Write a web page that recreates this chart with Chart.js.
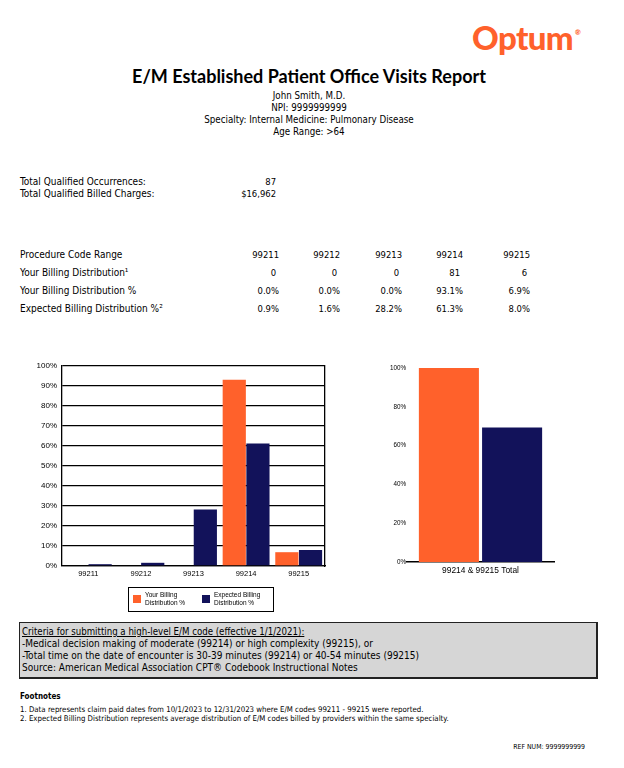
<!DOCTYPE html>
<html>
<head>
<meta charset="utf-8">
<script src="https://cdn.jsdelivr.net/npm/chart.js@4.4.0/dist/chart.umd.min.js"></script>
<style>
  body {
    margin: 0;
    width: 624px;
    height: 768px;
    background: #fff;
    color: #000;
    font-family: "DejaVu Sans Condensed", "DejaVu Sans", sans-serif;
    position: relative;
    overflow: hidden;
  }
  .abs { position: absolute; }
  .logo {
    left: 472px; top: 12px; width: 130px;
    font-family: Lato, sans-serif; font-weight: 900; font-size: 33px;
    color: #ff612b; line-height: 40px; letter-spacing: -0.6px;
  }
  .logo sup { font-size: 7px; letter-spacing: 0; vertical-align: 15px; margin-left: 2px; }
  .title {
    left: 0; top: 66px; width: 618px; text-align: center;
    font-family: Lato, sans-serif; font-weight: 700; font-size: 18px; line-height: 20px;
  }
  .sub {
    left: 0; top: 90px; width: 618px; text-align: center;
    font-size: 9.7px; line-height: 12px;
  }
  table { border-collapse: collapse; table-layout: fixed; }
  td { padding: 0; white-space: nowrap; font-size: 9.4px; }
  td.lab { font-size: 10px; }
  .totals { left: 20px; top: 176px; }
  .totals td { line-height: 12px; }
  .dist { left: 20px; top: 246px; }
  .dist td { line-height: 18px; }
  .r { text-align: right; }
  .pr td.r { padding-right: 3px; }
  .legend {
    left: 128px; top: 587px; width: 144px; height: 23px;
    border: 1px solid #000; font-family: "Liberation Sans", Arial, sans-serif;
    font-size: 6.5px; line-height: 8px;
  }
  .legend .sw { position: absolute; top: 7px; width: 8px; height: 8px; }
  .legend .tx { position: absolute; top: 3px; width: 54px; }
  .criteria {
    left: 19px; top: 622px; width: 574px; height: 51px;
    background: #d6d6d6; border: 1px solid #222; border-right-width: 2px; border-bottom-width: 2px;
    padding: 3px 0 0 2px; font-size: 10px; line-height: 12px;
  }
  .criteria .head { text-decoration: underline; font-size: 9.6px; }
  .foothead { left: 20px; top: 692px; font-size: 8px; font-weight: bold; line-height: 10px; }
  .foot { left: 20px; top: 705px; font-size: 7.8px; line-height: 9px; }
  .ref { left: 400px; top: 742px; width: 185px; text-align: right; font-size: 6.9px; line-height: 10px; }
</style>
</head>
<body>

<div class="abs logo">Optum<sup>®</sup></div>
<div class="abs title">E/M Established Patient Office Visits Report</div>
<div class="abs sub" id="sub"></div>

<table class="abs totals" id="totals"></table>
<table class="abs dist" id="dist"></table>

<canvas id="leftChart" class="abs" width="310" height="236" style="left:20px;top:356px;"></canvas>
<canvas id="rightChart" class="abs" width="260" height="230" style="left:340px;top:355px;"></canvas>

<div class="abs legend" id="legend"></div>

<div class="abs criteria" id="criteria"></div>

<div class="abs foothead">Footnotes</div>
<div class="abs foot" id="foot"></div>
<div class="abs ref">REF NUM: 9999999999</div>

<script>
  // report header
  const providerLines = [
    "John Smith, M.D.",
    "NPI: 9999999999",
    "Specialty: Internal Medicine: Pulmonary Disease",
    "Age Range: >64",
  ];
  const totalLabels = ["Total Qualified Occurrences:", "Total Qualified Billed Charges:"];
  const totalValues = ["87", "$16,962"];

  // distribution table + left chart
  const codes = ["99211", "99212", "99213", "99214", "99215"];
  const rowLabels = [
    "Procedure Code Range",
    "Your Billing Distribution\u00b9",
    "Your Billing Distribution %",
    "Expected Billing Distribution %\u00b2",
  ];
  const yourCounts = [0, 0, 0, 81, 6];
  const yourPct = [0.0, 0.0, 0.0, 93.1, 6.9];
  const expectedPct = [0.9, 1.6, 28.2, 61.3, 8.0];
  const leftTicks = [0, 10, 20, 30, 40, 50, 60, 70, 80, 90, 100];

  // right chart
  const totalCategory = ["99214 & 99215 Total"];
  const yourTotalPct = [100.0];
  const expectedTotalPct = [69.3];
  const rightTicks = [0, 20, 40, 60, 80, 100];

  const seriesLabels = ["Your Billing Distribution %", "Expected Billing Distribution %"];
  const seriesColors = ["#ff612b", "#12125a"];

  const criteriaLines = [
    "Criteria for submitting a high-level E/M code (effective 1/1/2021):",
    "-Medical decision making of moderate (99214) or high complexity (99215), or",
    "-Total time on the date of encounter is 30-39 minutes (99214) or 40-54 minutes (99215)",
    "Source: American Medical Association CPT\u00ae Codebook Instructional Notes",
  ];
  const footnotes = [
    "1. Data represents claim paid dates from 10/1/2023 to 12/31/2023 where E/M codes 99211 - 99215 were reported.",
    "2. Expected Billing Distribution represents average distribution of E/M codes billed by providers within the same specialty.",
  ];

  const pct = (v) => v.toFixed(1) + "%";

  document.getElementById("sub").innerHTML = providerLines.join("<br>");

  document.getElementById("totals").innerHTML =
    '<colgroup><col style="width:200px"><col style="width:56px"></colgroup>' +
    totalLabels.map((l, i) => `<tr><td class="lab">${l}</td><td class="r">${totalValues[i]}</td></tr>`).join("");

  const colWidths = [210, 49, 61, 62, 61, 67];
  const rows = [codes, yourCounts.map(String), yourPct.map(pct), expectedPct.map(pct)];
  document.getElementById("dist").innerHTML =
    "<colgroup>" + colWidths.map((w) => `<col style="width:${w}px">`).join("") + "</colgroup>" +
    rows.map((r, i) =>
      `<tr class="${i === 1 ? "pr" : ""}"><td class="lab">${rowLabels[i]}</td>` +
      r.map((c) => `<td class="r">${c}</td>`).join("") + "</tr>"
    ).join("");

  document.getElementById("legend").innerHTML = seriesLabels.map((l, i) =>
    `<div class="sw" style="left:${4 + i * 69}px;background:${seriesColors[i]}"></div>` +
    `<div class="tx" style="left:${16 + i * 69}px">${l}</div>`
  ).join("");

  document.getElementById("criteria").innerHTML = criteriaLines.map((l, i) =>
    i === 0 ? `<div class="head">${l}</div>` : `<div>${l}</div>`
  ).join("");

  document.getElementById("foot").innerHTML = footnotes.join("<br>");

  const axisFont = { family: "'Liberation Sans', Arial, sans-serif" };

  new Chart(document.getElementById("leftChart"), {
    type: "bar",
    data: {
      labels: codes,
      datasets: [
        { label: seriesLabels[0], data: yourPct, backgroundColor: seriesColors[0] },
        { label: seriesLabels[1], data: expectedPct, backgroundColor: seriesColors[1] },
      ],
    },
    options: {
      responsive: false,
      animation: false,
      categoryPercentage: 0.9,
      barPercentage: 0.98,
      layout: { padding: { top: 10, right: 5, left: 0, bottom: 0 } },
      plugins: { legend: { display: false }, tooltip: { enabled: false } },
      scales: {
        x: {
          grid: { display: false, drawTicks: false },
          border: { color: "#000", width: 1.3 },
          ticks: { color: "#000", padding: 3, font: { ...axisFont, size: 7.5 }, maxRotation: 0 },
          afterFit: (s) => { s.height = 26; },
        },
        y: {
          min: 0,
          max: 100,
          afterBuildTicks: (s) => { s.ticks = leftTicks.map((v) => ({ value: v })); },
          grid: { color: "#000", lineWidth: 1.3, drawTicks: false },
          border: { color: "#000", width: 1.3 },
          ticks: { color: "#000", padding: 5, font: { ...axisFont, size: 8 }, callback: (v) => v + "%" },
          afterFit: (s) => { s.width = 42; },
        },
        y2: {
          position: "right",
          min: 0,
          max: 100,
          grid: { display: false },
          border: { color: "#000", width: 1.3 },
          ticks: { display: false },
          afterFit: (s) => { s.width = 0; },
        },
      },
    },
  });

  new Chart(document.getElementById("rightChart"), {
    type: "bar",
    data: {
      labels: totalCategory,
      datasets: [
        { label: seriesLabels[0], data: yourTotalPct, backgroundColor: seriesColors[0] },
        { label: seriesLabels[1], data: expectedTotalPct, backgroundColor: seriesColors[1] },
      ],
    },
    options: {
      responsive: false,
      animation: false,
      categoryPercentage: 0.86,
      barPercentage: 0.95,
      layout: { padding: { top: 13, right: 46, left: 0, bottom: 0 } },
      plugins: { legend: { display: false }, tooltip: { enabled: false } },
      scales: {
        x: {
          grid: { display: false, drawTicks: false },
          border: { color: "#000", width: 1.5 },
          ticks: { color: "#000", padding: 4, font: { ...axisFont, size: 8.4 } },
          afterFit: (s) => { s.height = 23; },
        },
        y: {
          min: 0,
          max: 100,
          afterBuildTicks: (s) => { s.ticks = rightTicks.map((v) => ({ value: v })); },
          grid: { display: false, drawTicks: false },
          border: { display: false },
          ticks: { color: "#000", padding: 1, font: { ...axisFont, size: 6.3 }, callback: (v) => v + "%" },
          afterFit: (s) => { s.width = 67; },
        },
      },
    },
  });
</script>
</body>
</html>
